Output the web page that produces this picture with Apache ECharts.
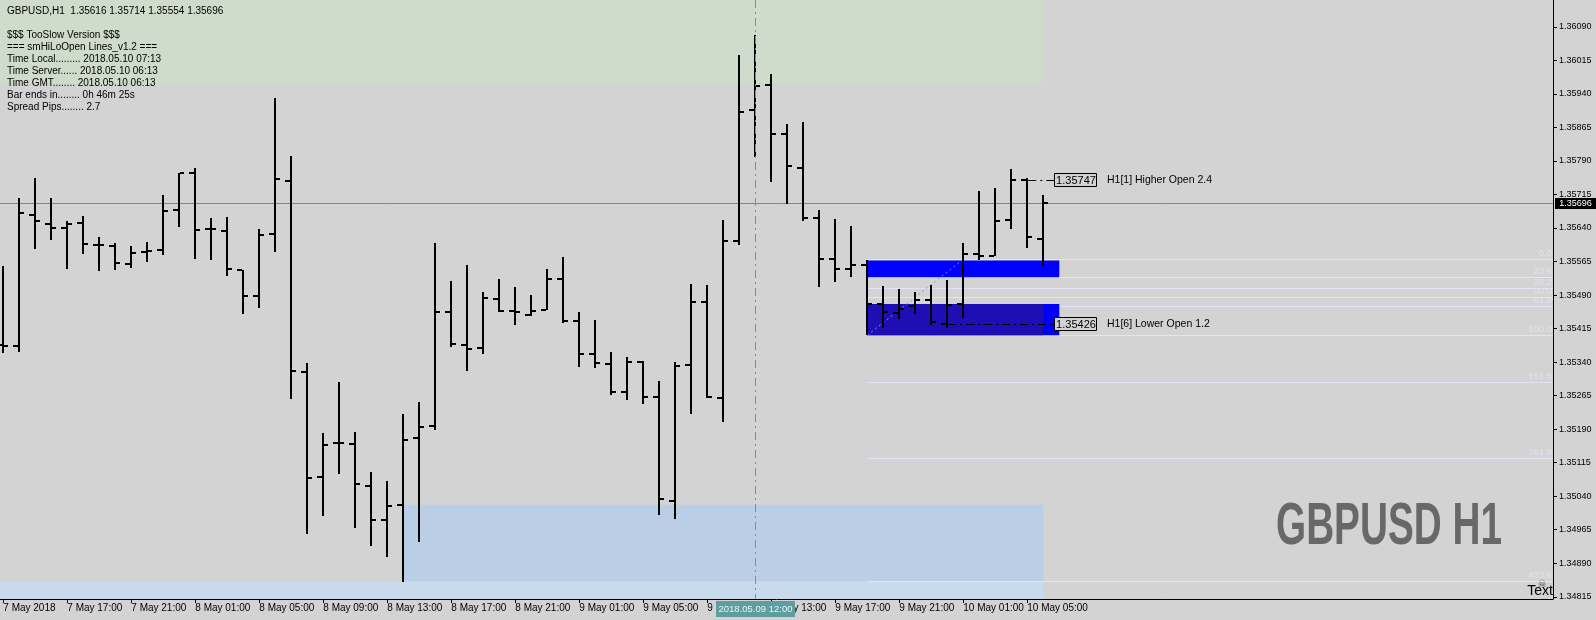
<!DOCTYPE html>
<html><head><meta charset="utf-8">
<script src="https://cdn.jsdelivr.net/npm/echarts@6/dist/echarts.min.js"></script>
<style>html,body{margin:0;padding:0;background:#d3d3d3}#c{width:1596px;height:620px}</style>
</head><body><div id="c"></div>
<script>
// ---- data ----
const opens  = [1.35379,1.35376,1.35670,1.35650,1.35639,1.35652,1.35603,1.35599,1.35559,1.35587,1.35591,1.35681,1.35762,1.35637,1.35634,1.35545,1.35487,1.35627,1.35746,1.35318,1.35083,1.35159,1.35157,1.35063,1.34987,1.35021,1.35171,1.35198,1.35453,1.35379,1.35372,1.35482,1.35455,1.35446,1.35457,1.35526,1.35431,1.35359,1.35336,1.35274,1.35341,1.35261,1.35030,1.35334,1.35475,1.35260,1.35611,1.35904,1.35960,1.35851,1.35775,1.35663,1.35570,1.35549,1.35558,1.35469,1.35449,1.35466,1.35480,1.35426,1.35471,1.35582,1.35578,1.35658,1.35747,1.35616];
const highs  = [1.35555,1.35708,1.35752,1.35707,1.35655,1.35667,1.35620,1.35606,1.35600,1.35608,1.35714,1.35764,1.35774,1.35662,1.35665,1.35546,1.35637,1.35931,1.35801,1.35338,1.35182,1.35295,1.35184,1.35094,1.35074,1.35224,1.35251,1.35606,1.35521,1.35558,1.35497,1.35526,1.35508,1.35490,1.35548,1.35575,1.35452,1.35434,1.35362,1.35351,1.35342,1.35298,1.35341,1.35515,1.35512,1.35658,1.36027,1.36071,1.35985,1.35872,1.35877,1.35680,1.35660,1.35644,1.35569,1.35511,1.35504,1.35497,1.35512,1.35523,1.35606,1.35723,1.35729,1.35772,1.35751,1.35714];
const lows   = [1.35361,1.35363,1.35593,1.35612,1.35548,1.35582,1.35544,1.35546,1.35550,1.35565,1.35579,1.35642,1.35570,1.35568,1.35532,1.35447,1.35460,1.35587,1.35257,1.34955,1.34995,1.35089,1.34968,1.34928,1.34903,1.34848,1.34937,1.35189,1.35374,1.35321,1.35357,1.35452,1.35424,1.35444,1.35457,1.35427,1.35330,1.35326,1.35266,1.35256,1.35247,1.34999,1.34990,1.35223,1.35260,1.35207,1.35601,1.35799,1.35742,1.35693,1.35655,1.35508,1.35519,1.35530,1.35400,1.35416,1.35436,1.35447,1.35423,1.35416,1.35438,1.35569,1.35578,1.35637,1.35596,1.35554];
const closes = [1.35376,1.35673,1.35655,1.35639,1.35650,1.35605,1.35601,1.35561,1.35583,1.35589,1.35679,1.35762,1.35636,1.35637,1.35549,1.35487,1.35625,1.35750,1.35321,1.35081,1.35155,1.35159,1.35068,1.34987,1.35019,1.35166,1.35195,1.35453,1.35381,1.35370,1.35484,1.35455,1.35451,1.35455,1.35526,1.35432,1.35359,1.35338,1.35274,1.35341,1.35263,1.35033,1.35332,1.35475,1.35262,1.35610,1.35900,1.35958,1.35851,1.35778,1.35662,1.35571,1.35549,1.35558,1.35470,1.35451,1.35459,1.35480,1.35429,1.35467,1.35582,1.35578,1.35656,1.35748,1.35619,1.35696];

const timeTickIdx    = [0,4,8,12,16,20,24,28,32,36,40,44,48,52,56,60,64];
const timeTickLabels = ['7 May 2018','7 May 17:00','7 May 21:00','8 May 01:00','8 May 05:00','8 May 09:00','8 May 13:00','8 May 17:00','8 May 21:00','9 May 01:00','9 May 05:00','9 May 09:00','9 May 13:00','9 May 17:00','9 May 21:00','10 May 01:00','10 May 05:00'];
const priceTicks = [1.34815,1.34890,1.34965,1.35040,1.35115,1.35190,1.35265,1.35340,1.35415,1.35490,1.35565,1.35640,1.35715,1.35790,1.35865,1.35940,1.36015,1.36090];

const currentPrice = 1.35696;
const crossIdx = 47;
const crossLabel = '2018.05.09 12:00';

// shaded zones: [start bar, end bar, upper price, lower price]
const zoneStart = [-1, 25, -1];
const zoneEnd   = [65, 65, 65];
const zoneUpper = [1.3620, 1.35021, 1.34849];
const zoneLower = [1.35965, 1.34849, 1.3470];

// fibonacci
const fibLevels = [0, 23.6, 38.2, 50.0, 61.8, 100.0, 161.8, 261.8, 423.6];
const fibLabels = ['0.0','23.6','38.2','50.0','61.8','100.0','161.8','261.8','423.6'];
const fibStartIdx = 54, fibEndIdx = 60;
const fibHigh = 1.35570, fibLow = 1.35400;
// fib boxes: [start bar, end bar, upper, lower]
const boxStart = [54, 54, 54];
const boxEnd   = [66, 66, 65];
const boxUpper = [1.35567, 1.35470, 1.35470];
const boxLower = [1.35530, 1.35400, 1.35400];

// higher / lower open lines
const openLineIdx   = [64, 59];
const openLinePrice = [1.35747, 1.35426];
const openLineText  = ['H1[1] Higher Open 2.4', 'H1[6] Lower Open 1.2'];

const infoLines = ['GBPUSD,H1  1.35616 1.35714 1.35554 1.35696','','$$$ TooSlow Version $$$','=== smHiLoOpen Lines_v1.2 ===','Time Local......... 2018.05.10 07:13','Time Server...... 2018.05.10 06:13','Time GMT........ 2018.05.10 06:13','Bar ends in........ 0h 46m 25s','Spread Pips........ 2.7'];

// ---- chart ----
const FONT = '"Liberation Sans", Arial, sans-serif';
const chart = echarts.init(document.getElementById('c'), null, {renderer:'canvas'});
const lastIdx = opens.length - 1;
const X_MIN = -0.206, X_MAX = 96.856;

function clipRect(p1, p2, cs){
  let x0 = Math.max(Math.min(p1[0],p2[0]), cs.x), x1 = Math.min(Math.max(p1[0],p2[0]), cs.x+cs.width);
  let y0 = Math.max(Math.min(p1[1],p2[1]), cs.y), y1 = Math.min(Math.max(p1[1],p2[1]), cs.y+cs.height);
  return {x:x0, y:y0, width:Math.max(0,x1-x0), height:Math.max(0,y1-y0)};
}

const zoneColors = ['#d0dccb', '#bacee6', '#c9daec'];
const boxColors = ['#0000ff', '#0000ff', '#1e0fb4'];

const barsData = opens.map((o,i)=>[i, o, highs[i], lows[i], closes[i]]);

const measureCtx = document.createElement('canvas').getContext('2d');
const titleFont = 'bold 60px "Liberation Sans Narrow", "Liberation Sans", Arial, sans-serif';
measureCtx.font = titleFont;
const titleScale = 226 / measureCtx.measureText('GBPUSD H1').width;

const graphics = [];
infoLines.forEach((t,k)=>{
  if(!t) return;
  graphics.push({type:'text', x:7, y: k===0 ? 11 : 35 + (k-2)*12.07, z:100,
    style:{text:t, fill:'#000', font:'10px '+FONT, verticalAlign:'middle'}});
});
graphics.push({type:'text', x:1276, y:527, scaleX:titleScale, z:100,
  style:{text:'GBPUSD H1', fill:'#686868', font:titleFont, verticalAlign:'middle'}});
graphics.push({type:'text', x:1553, y:591, z:100,
  style:{text:'Text', fill:'#000', font:'14px '+FONT, align:'right', verticalAlign:'middle'}});
graphics.push({type:'text', x:1542, y:584, z:101,
  style:{text:'\u2620', fill:'#555', font:'10px "DejaVu Sans"', align:'center', verticalAlign:'middle'}});

chart.setOption({
  animation:false,
  backgroundColor:'#d3d3d3',
  grid:{left:0, right:43, top:0, bottom:21, containLabel:false, outerBoundsMode:'none'},
  xAxis:{type:'value', min:X_MIN, max:X_MAX,
    axisLine:{show:true, onZero:false, lineStyle:{color:'#000', width:1}},
    axisTick:{show:true, customValues:timeTickIdx, length:4, lineStyle:{color:'#000'}},
    axisLabel:{show:true, customValues:timeTickIdx, align:'left', margin:4, color:'#000', fontSize:10, fontFamily:FONT,
      formatter:(v)=>{const k=timeTickIdx.indexOf(Math.round(v)); return k>=0?timeTickLabels[k]:'';}},
    splitLine:{show:false}},
  yAxis:{type:'value', position:'right', min:1.34810, max:1.36150,
    axisLine:{show:true, onZero:false, lineStyle:{color:'#000', width:1}},
    axisTick:{show:true, customValues:priceTicks, length:4, lineStyle:{color:'#000'}},
    axisLabel:{show:true, customValues:priceTicks, margin:6, color:'#000', fontSize:9, fontFamily:FONT,
      formatter:(v)=>Number(v).toFixed(5)},
    splitLine:{show:false}},
  graphic: graphics,
  series:[
    { // zones
      type:'custom', z:1, silent:true,
      data: zoneStart.map((s,i)=>[s, zoneEnd[i], zoneUpper[i], zoneLower[i]]),
      renderItem:(params, api)=>{
        const p1 = api.coord([api.value(0), api.value(2)]);
        const p2 = api.coord([api.value(1), api.value(3)]);
        return {type:'rect', shape:clipRect(p1,p2,params.coordSys), style:{fill:zoneColors[params.dataIndex]}};
      }
    },
    { // fib level lines
      type:'custom', z:2, silent:true,
      data: fibLevels.map(l=>[l]),
      renderItem:(params, api)=>{
        const r = api.value(0)/100;
        const price = fibHigh - r*(fibHigh-fibLow);
        const a = api.coord([fibStartIdx, price]);
        const cs = params.coordSys;
        const y = Math.round(a[1]) + 0.5;
        return {type:'group', children:[
          {type:'line', shape:{x1:a[0], y1:y, x2:cs.x+cs.width, y2:y}, style:{stroke:'#e4e4f6', lineWidth:1}},
          {type:'text', x:cs.x+cs.width-1, y:y-1, style:{text:fibLabels[params.dataIndex], fill:'#e2e2f2', font:'9.5px '+FONT, align:'right', verticalAlign:'bottom'}}
        ]};
      }
    },
    { // fib boxes
      type:'custom', z:3, silent:true,
      data: boxStart.map((s,i)=>[s, boxEnd[i], boxUpper[i], boxLower[i]]),
      renderItem:(params, api)=>{
        const p1 = api.coord([api.value(0), api.value(2)]);
        const p2 = api.coord([api.value(1), api.value(3)]);
        return {type:'rect', shape:clipRect(p1,p2,params.coordSys), style:{fill:boxColors[params.dataIndex]}};
      }
    },
    { // fib diagonal
      type:'custom', z:4, silent:true,
      data: [[fibStartIdx, fibLow, fibEndIdx, fibHigh]],
      renderItem:(params, api)=>{
        const a = api.coord([api.value(0), api.value(1)]);
        const b = api.coord([api.value(2), api.value(3)]);
        return {type:'line', shape:{x1:a[0], y1:a[1], x2:b[0], y2:b[1]}, style:{stroke:'#9090ff', lineWidth:1, lineDash:[2,3]}};
      }
    },
    { // current price line + tag
      type:'custom', z:4, silent:true,
      data: [[lastIdx, currentPrice]],
      renderItem:(params, api)=>{
        const a = api.coord([api.value(0), api.value(1)]);
        const cs = params.coordSys;
        const y = Math.round(a[1]) + 0.5;
        const right = cs.x + cs.width;
        return {type:'group', children:[
          {type:'line', shape:{x1:cs.x, y1:y, x2:right, y2:y}, style:{stroke:'#778899', lineWidth:1}},
          {type:'rect', z2:10, shape:{x:right+2, y:y-5.5, width:41, height:11}, style:{fill:'#000'}},
          {type:'text', z2:11, x:right+22.5, y:y, style:{text:api.value(1).toFixed(5), fill:'#fff', font:'9px '+FONT, align:'center', verticalAlign:'middle'}}
        ]};
      }
    },
    { // OHLC bars
      type:'custom', z:5, silent:true,
      data: barsData,
      renderItem:(params, api)=>{
        const x = api.value(0);
        const o = api.coord([x, api.value(1)]);
        const h = api.coord([x, api.value(2)]);
        const l = api.coord([x, api.value(3)]);
        const c = api.coord([x, api.value(4)]);
        const cx = Math.round(o[0]);
        const oy = Math.round(o[1]), cy = Math.round(c[1]);
        const st = {stroke:'#000', lineWidth:2};
        return {type:'group', children:[
          {type:'line', shape:{x1:cx, y1:Math.round(h[1]), x2:cx, y2:Math.round(l[1])}, style:st},
          {type:'line', shape:{x1:cx-6, y1:oy, x2:cx-1, y2:oy}, style:st},
          {type:'line', shape:{x1:cx+1, y1:cy, x2:cx+5, y2:cy}, style:st}
        ]};
      }
    },
    { // higher / lower open annotations
      type:'custom', z:6, silent:true,
      data: openLineIdx.map((x,i)=>[x, openLinePrice[i], lastIdx + 0.67]),
      renderItem:(params, api)=>{
        const i = params.dataIndex;
        const a = api.coord([api.value(0), api.value(1)]);
        const b = api.coord([api.value(2), api.value(1)]);
        const y = Math.round(a[1]);
        const bx = Math.round(b[0]);
        return {type:'group', children:[
          {type:'line', shape:{x1:a[0]+1, y1:y+0.5, x2:bx, y2:y+0.5}, style:{stroke:'#000', lineWidth:1, lineDash:[8,4,2,4]}},
          {type:'rect', shape:{x:bx+0.5, y:y-6.5, width:42, height:13}, style:{fill:'#d3d3d3', stroke:'#000', lineWidth:1}},
          {type:'text', x:bx+22, y:y+0.5, style:{text:openLinePrice[i].toFixed(5), fill:'#000', font:'11px '+FONT, align:'center', verticalAlign:'middle'}},
          {type:'text', x:bx+53, y:y, style:{text:openLineText[i], fill:'#000', font:'10.5px '+FONT, align:'left', verticalAlign:'middle'}}
        ]};
      }
    },
    { // crosshair
      type:'custom', z:7, silent:true,
      data: [[crossIdx, currentPrice]],
      renderItem:(params, api)=>{
        const a = api.coord([api.value(0), api.value(1)]);
        const cs = params.coordSys;
        const x = Math.round(a[0]) + 0.5;
        const bottom = cs.y + cs.height;
        return {type:'group', children:[
          {type:'line', shape:{x1:x, y1:cs.y, x2:x, y2:bottom}, style:{stroke:'#5f9ea0', lineWidth:1, lineDash:[8,4,2,4]}},
          {type:'rect', shape:{x:x-39.5, y:bottom+2, width:79, height:16}, style:{fill:'#5f9ea0'}},
          {type:'text', x:x, y:bottom+10, style:{text:crossLabel, fill:'#eaf4f4', font:'9.5px '+FONT, align:'center', verticalAlign:'middle'}}
        ]};
      }
    }
  ]
});
</script></body></html>
